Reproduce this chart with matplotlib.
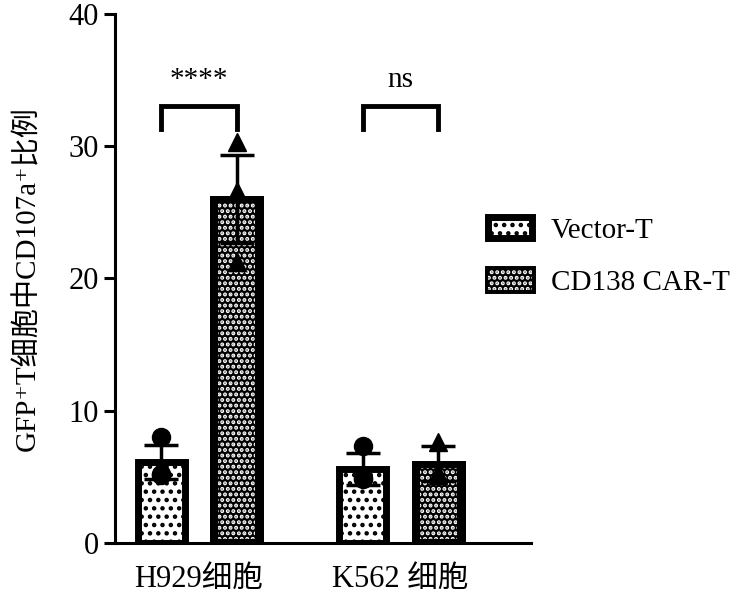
import matplotlib.pyplot as plt
import numpy as np

plt.rcParams['font.family'] = ['Liberation Serif', 'Noto Sans CJK SC',
                               'DejaVu Serif']
plt.rcParams['hatch.linewidth'] = 2.0

groups = ['H929细胞', 'K562 细胞']
series = ['Vector-T', 'CD138 CAR-T']
means = {'Vector-T': [6.1, 5.6], 'CD138 CAR-T': [26.0, 6.0]}
errs = {'Vector-T': [1.3, 1.2], 'CD138 CAR-T': [3.3, 1.3]}
points = {'Vector-T': [[8.0, 5.2, 5.1], [7.3, 4.9, 4.8]],
          'CD138 CAR-T': [[30.3, 26.6, 21.2], [7.6, 5.3, 5.1]]}
sig_labels = ['****', 'ns']

fig = plt.figure(figsize=(7.43, 5.96), dpi=100)
ax = fig.add_axes([0.155, 0.089, 0.559, 0.888])

centers = np.array([0.0, 2.67])
offsets = {'Vector-T': -0.5, 'CD138 CAR-T': 0.5}
markers = {'Vector-T': 'o', 'CD138 CAR-T': '^'}
width = 0.62
handles = []
for name in series:
    x = centers + offsets[name]
    if name == 'Vector-T':
        h = ax.bar(x, means[name], width, facecolor='white', edgecolor='black',
                   linewidth=5, hatch='..', zorder=2)
        handles.append(h)
    else:
        hb = ax.bar(x, means[name], width, facecolor='black', edgecolor='black',
                    linewidth=5, zorder=2)
        hh = ax.bar(x, means[name], width * 0.8, bottom=0.3, facecolor='none',
                    edgecolor='white', linewidth=0, hatch='...', zorder=3)
        ax.bar(x, means[name], width, facecolor='none', edgecolor='black',
               linewidth=5, zorder=4)
        handles.append((hb, hh))
    ax.errorbar(x, means[name], yerr=errs[name], fmt='none', ecolor='black',
                elinewidth=2.5, capsize=12, capthick=2.5, zorder=5)
    for xi, pts in zip(x, points[name]):
        ax.plot([xi] * len(pts), pts, linestyle='none', marker=markers[name],
                color='black', markersize=13, zorder=6)

# significance brackets
for c, lab in zip(centers, sig_labels):
    x1, x2 = c - 0.5, c + 0.5
    ax.plot([x1, x1, x2, x2], [31.3, 33.0, 33.0, 31.3], color='black',
            linewidth=3.5, solid_joinstyle='miter', zorder=5)
    ax.text(c, 34.0, lab, ha='center', va='bottom', fontsize=21)

ax.set_ylim(0, 40)
ax.set_xlim(-1.11, 4.39)
ax.set_yticks([0, 10, 20, 30, 40])
ax.set_xticks(centers)
ax.set_xticklabels(groups)
ax.tick_params(axis='y', length=8, width=2.2, labelsize=22, direction='out')
ax.tick_params(axis='x', length=0, labelsize=22, pad=16)
ax.spines['top'].set_visible(False)
ax.spines['right'].set_visible(False)
ax.spines['left'].set_linewidth(2.2)
ax.spines['bottom'].set_linewidth(2.2)
ax.set_ylabel('GFP⁺T细胞中CD107a⁺比例', fontsize=21, labelpad=20)

ax.legend(handles, series, loc='center left',
          bbox_to_anchor=(0.657, 0.52, 0.34, 0.1),
          frameon=False, fontsize=21, handlelength=1.5, handleheight=0.75,
          handletextpad=0.65, labelspacing=0.85, borderpad=0,
          borderaxespad=0, bbox_transform=fig.transFigure)

fig.savefig('out.png', dpi=100)
